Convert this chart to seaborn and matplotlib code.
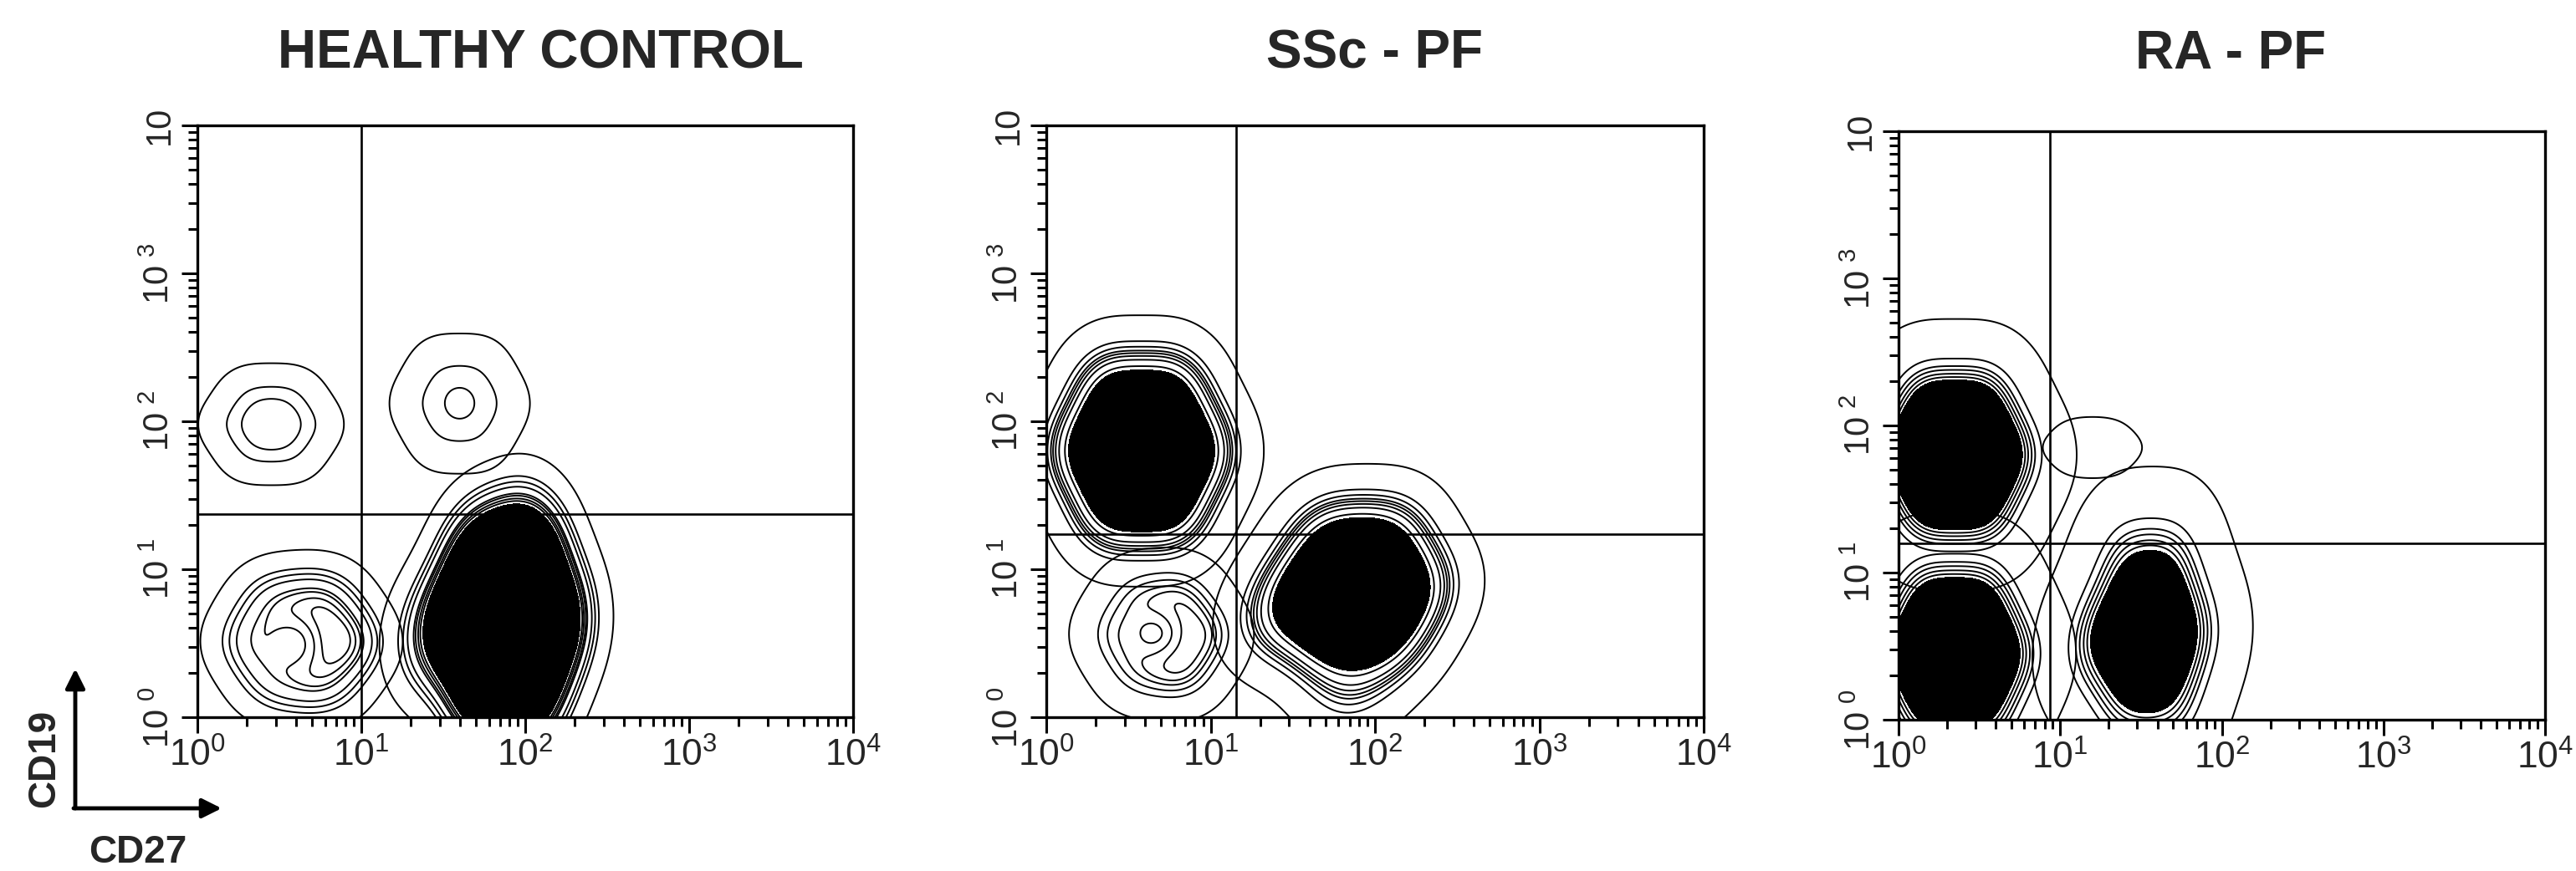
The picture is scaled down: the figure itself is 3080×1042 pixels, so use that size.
import matplotlib
matplotlib.use("Agg")
import matplotlib.pyplot as plt
from matplotlib.colors import ListedColormap
import pandas as pd
import seaborn as sns

sns.set_theme(style="white")
plt.rcParams["font.family"] = ["Liberation Sans", "DejaVu Sans"]
plt.rcParams["mathtext.default"] = "regular"

titles = ["HEALTHY CONTROL", "SSc - PF", "RA - PF"]

# events: population, CD27 (x), CD19 (y), number of events
hc_pop = ["UL"] * 7 + ["UR"] * 7 + ["BL"] * 6 + ["BR"] * 10
hc_cd27 = [2.82, 5.01, 1.58, 3.76, 2.11, 3.76, 2.11,
           39.8, 70.8, 22.4, 53.1, 29.9, 53.1, 29.9,
           7.94, 2.19, 5.75, 3.02, 5.75, 3.02,
           75.9, 145, 39.8, 105, 55.0, 105, 55.0, 25.1, 89.1, 79.4]
hc_cd19 = [95.5, 95.5, 95.5, 155, 155, 58.9, 58.9,
           132, 132, 132, 234, 234, 74.1, 74.1,
           3.24, 3.24, 5.89, 5.89, 1.78, 1.78,
           4.47, 4.47, 4.47, 10.7, 10.7, 1.86, 1.86, 3.16, 15.8, 1.20]
hc_events = [3, 2, 2, 2, 2, 2, 2,
             3, 2, 2, 2, 2, 2, 2,
             12, 8, 10, 8, 9, 7,
             60, 40, 40, 40, 40, 40, 40, 10, 15, 20]

ssc_pop = ["UL"] * 7 + ["tail"] * 7 + ["BL"] * 6 + ["BR"] * 9
ssc_cd27 = [3.80, 8.32, 1.74, 5.62, 2.57, 5.62, 2.57,
            44.7, 100, 20, 66.8, 29.9, 66.8, 29.9,
            9.12, 2.63, 6.61, 3.63, 6.61, 3.63,
            79.4, 174, 36.3, 117, 53.7, 117, 53.7, 25.1, 70.8]
ssc_cd19 = [63.1, 63.1, 63.1, 151, 151, 26.3, 26.3,
            56.2, 56.2, 56.2, 141, 141, 22.4, 22.4,
            3.63, 3.63, 6.46, 6.46, 2.04, 2.04,
            7.41, 7.41, 7.41, 15.8, 15.8, 3.47, 3.47, 4.47, 1.58]
ssc_events = [60, 40, 40, 40, 40, 40, 40,
              1, 1, 1, 1, 1, 1, 1,
              12, 9, 11, 9, 12, 9,
              60, 35, 35, 35, 35, 35, 35, 20, 15]

ra_pop = ["UL"] * 7 + ["tail"] * 7 + ["BL"] * 7 + ["BR"] * 8
ra_cd27 = [2.24, 5.13, 1.0, 3.39, 1.48, 3.39, 1.48,
           15.8, 28.2, 8.91, 21.1, 11.9, 21.1, 11.9,
           2.24, 5.13, 1.0, 3.39, 1.48, 3.39, 1.48,
           35.5, 70.8, 17.8, 50.1, 25.1, 50.1, 25.1, 13.2]
ra_cd19 = [63.1, 63.1, 63.1, 158, 158, 25.1, 25.1,
           70.8, 70.8, 70.8, 100, 100, 50.1, 50.1,
           2.82, 2.82, 2.82, 7.41, 7.41, 1.07, 1.07,
           3.98, 3.98, 3.98, 12.6, 12.6, 1.26, 1.26, 2.51]
ra_events = [60, 40, 40, 40, 40, 40, 40,
             1, 1, 1, 1, 1, 1, 1,
             60, 40, 40, 40, 40, 40, 40,
             55, 35, 35, 35, 35, 35, 35, 15]

# quadrant gates (CD27, CD19)
gate_cd27 = [10, 14.3, 8.6]
gate_cd19 = [23.7, 17.2, 15.9]

decades = [1, 10, 100, 1000, 10000]
x_labels = ["$10^0$", "$10^1$", "$10^2$", "$10^3$", "$10^4$"]
y_labels = ["$10^{\\ 0}$", "$10^{\\ 1}$", "$10^{\\ 2}$", "$10^{\\ 3}$", "10"]

panels = [
    (hc_pop, hc_cd27, hc_cd19, hc_events),
    (ssc_pop, ssc_cd27, ssc_cd19, ssc_events),
    (ra_pop, ra_cd27, ra_cd19, ra_events),
]
# iso-proportion contour levels, and where the solid core starts
ring_levels = [
    [0.021, 0.113, 0.17, 0.22, 0.27, 0.31, 0.35, 0.38],
    [0.023, 0.117, 0.162, 0.207, 0.253, 0.298, 0.344, 0.396],
    [0.023, 0.17, 0.226, 0.26, 0.298, 0.335],
]
fill_from = [0.41, 0.431, 0.37]
black = ListedColormap(["black"])

W, H = 3080, 1042
boxes = [(236, 150, 1020, 858), (1251, 150, 2037, 858), (2270, 157, 3043, 861)]
title_x = [646, 1644, 2667]

fig = plt.figure(figsize=(W / 100, H / 100), dpi=100)

for i, (pop, cd27, cd19, events) in enumerate(panels):
    l, t, r, b = boxes[i]
    ax = fig.add_axes([l / W, 1 - b / H, (r - l) / W, (b - t) / H])
    df = pd.DataFrame({"pop": pop, "CD27": cd27, "CD19": cd19, "n": events})
    df = df.loc[df.index.repeat(df["n"])].reset_index(drop=True)
    pal = {p: "black" for p in df["pop"].unique()}
    kde = dict(data=df, x="CD27", y="CD19", hue="pop", palette=pal,
               common_norm=True, common_grid=True, legend=False,
               log_scale=True, bw_method=0.8, clip=((0, 4), (0, 4)),
               gridsize=300, cut=4, ax=ax)
    sns.kdeplot(levels=ring_levels[i], linewidths=1.4, **kde)
    n_before = len(ax.collections)
    sns.kdeplot(fill=True, levels=[fill_from[i], 1], **kde)
    for coll in ax.collections[n_before:]:
        coll.set_cmap(black)

    ax.axvline(gate_cd27[i], color="black", lw=1.9)
    ax.axhline(gate_cd19[i], color="black", lw=1.9)
    ax.set_xlim(1, 1e4)
    ax.set_ylim(1, 1e4)
    ax.set_xlabel("")
    ax.set_ylabel("")
    ax.set_xticks(decades)
    ax.set_xticklabels(x_labels, fontsize=32)
    ax.set_yticks(decades)
    ax.set_yticklabels(y_labels, fontsize=30, rotation=90, va="center")
    ax.tick_params(which="both", direction="out", bottom=True, left=True,
                   color="black", width=2.2)
    ax.tick_params(which="major", length=14, pad=4)
    ax.tick_params(which="minor", length=8)
    for s in ax.spines.values():
        s.set_color("black")
        s.set_linewidth(2.4)
    fig.text(title_x[i] / W, 1 - 65 / H, titles[i], ha="center", va="center",
             fontsize=46, fontweight="bold")

# axis key in the lower-left corner
fig.text(53 / W, 1 - 907 / H, "CD19", rotation=90, ha="center", va="center",
         fontsize=33, fontweight="bold")
fig.text(165 / W, 1 - 1020 / H, "CD27", ha="center", va="center",
         fontsize=33, fontweight="bold")
arrow = dict(arrowstyle="-|>", lw=3.5, color="black", mutation_scale=35,
             shrinkA=0, shrinkB=0)
fig.add_artist(plt.Annotation("", xy=(90 / W, 1 - 800 / H), xytext=(90 / W, 1 - 967 / H),
                              xycoords="figure fraction", arrowprops=arrow))
fig.add_artist(plt.Annotation("", xy=(265 / W, 1 - 967 / H), xytext=(88 / W, 1 - 967 / H),
                              xycoords="figure fraction", arrowprops=arrow))

fig.savefig("out.png", dpi=100, facecolor="white")
